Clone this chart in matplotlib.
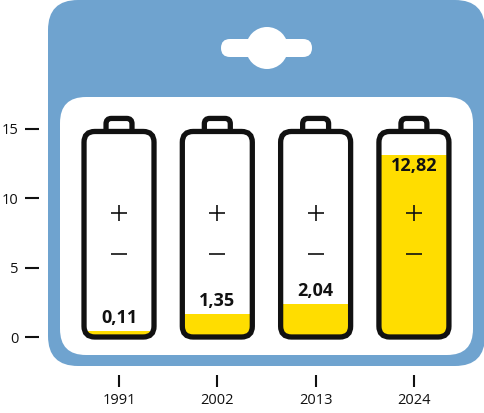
import matplotlib
matplotlib.use("Agg")
import matplotlib.pyplot as plt
from matplotlib.patches import FancyBboxPatch, Circle

# data
years = ['1991', '2002', '2013', '2024']
values = [0.11, 1.35, 2.04, 12.82]
value_labels = ['0,11', '1,35', '2,04', '12,82']
yticks = [0, 5, 10, 15]

W, H = 485, 413
blue = '#6fa3cf'
yellow = '#ffdd00'
ink = '#111111'

plt.rcParams['font.family'] = ['Open Sans', 'DejaVu Sans']
fig = plt.figure(figsize=(W / 100, H / 100), dpi=100)

# background card (pixel coordinates)
bg = fig.add_axes([0, 0, 1, 1], zorder=0)
bg.set_xlim(0, W)
bg.set_ylim(H, 0)
bg.axis('off')
bg.add_patch(FancyBboxPatch((48, 0), 437, 366, boxstyle='round,pad=0,rounding_size=30',
                            fc=blue, ec='none'))
bg.add_patch(FancyBboxPatch((60, 97), 413, 258, boxstyle='round,pad=0,rounding_size=26',
                            fc='white', ec='none'))
# hanger hole
bg.add_patch(FancyBboxPatch((221, 39), 91, 18, boxstyle='round,pad=0,rounding_size=9',
                            fc='white', ec='none'))
bg.add_patch(Circle((267, 48), 21, fc='white', ec='none'))

# chart axes
ax = fig.add_axes([39 / W, 38 / H, (W - 39) / W, (H - 38) / H], zorder=1)
ax.patch.set_alpha(0)
ax.set_xlim(-0.814, 3.723)
ax.set_ylim(-2.74, 24.30)
aspect = 98.3 / 13.867  # y units per x unit for round corners

half_w = 0.356
body_bot = 0.0
body_top = 14.82
inner_pad = 0.33  # fill starts at the inner edge of the outline
for i, v in enumerate(values):
    # cap
    cap = FancyBboxPatch((i - 0.132, 14.3), 0.264, 1.46,
                         boxstyle='round,pad=0,rounding_size=0.055',
                         mutation_aspect=aspect, fc='white', ec=ink, lw=3.8, zorder=1.5)
    ax.add_patch(cap)
    body = FancyBboxPatch((i - half_w, body_bot), 2 * half_w, body_top - body_bot,
                          boxstyle='round,pad=0,rounding_size=0.11',
                          mutation_aspect=aspect, fc='white', ec='none', zorder=2)
    ax.add_patch(body)
    bars = ax.bar(i, v + inner_pad, width=2 * half_w, bottom=body_bot, color=yellow, zorder=3)
    for b in bars:
        b.set_clip_path(body)
    outline = FancyBboxPatch((i - half_w, body_bot), 2 * half_w, body_top - body_bot,
                             boxstyle='round,pad=0,rounding_size=0.11',
                             mutation_aspect=aspect, fc='none', ec=ink, lw=3.8, zorder=5)
    ax.add_patch(outline)

    ax.plot(i, 8.94, marker='+', ms=12, mew=1.2, color=ink, zorder=6)
    ax.plot(i, 5.99, marker='_', ms=12, mew=1.2, color=ink, zorder=6)

    if v > 10:
        ty = v - 0.5
    else:
        ty = v + 1.25
    ax.text(i, ty, value_labels[i], ha='center', va='center', fontsize=13,
            fontweight='bold', color=ink, zorder=7)

ax.set_yticks(yticks)
ax.set_xticks(range(len(years)), years)
ax.tick_params(axis='y', length=10, width=1.5, direction='out', pad=5,
               labelsize=10.5, colors=ink)
ax.tick_params(axis='x', length=8.6, width=1.5, direction='out', pad=4,
               labelsize=10.5, colors=ink)
for s in ax.spines.values():
    s.set_visible(False)

fig.savefig('out.png', dpi=100)
